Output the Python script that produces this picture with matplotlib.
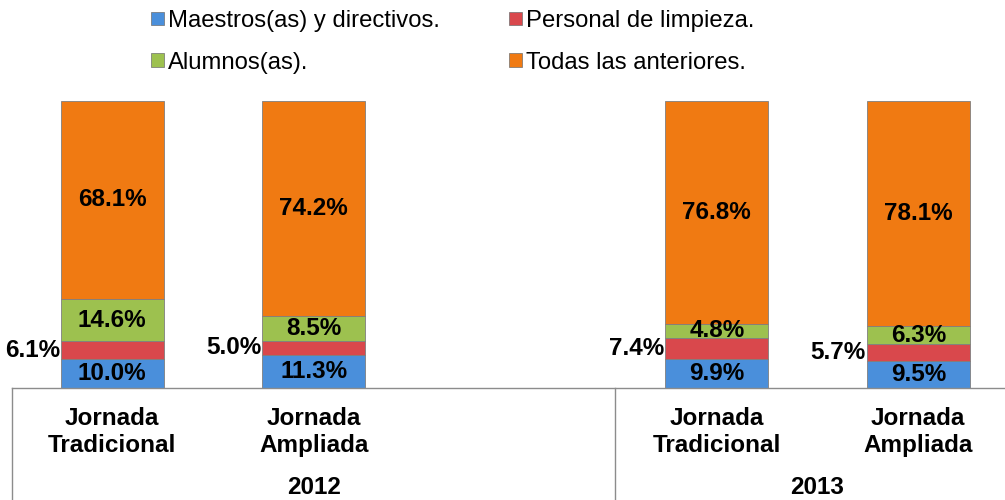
import matplotlib
matplotlib.use("Agg")
import matplotlib.pyplot as plt
import matplotlib.transforms as mtransforms
from matplotlib.patches import Patch
from matplotlib.lines import Line2D

plt.rcParams['font.family'] = ['Liberation Sans', 'DejaVu Sans']

categories = ["Jornada\nTradicional", "Jornada\nAmpliada", "", "Jornada\nTradicional", "Jornada\nAmpliada"]
years = ["2012", "2013"]
series_names = ["Maestros(as) y directivos.", "Personal de limpieza.", "Alumnos(as).", "Todas las anteriores."]
maestros = [10.0, 11.3, None, 9.9, 9.5]
limpieza = [6.1, 5.0, None, 7.4, 5.7]
alumnos = [14.6, 8.5, None, 4.8, 6.3]
todas = [68.1, 74.2, None, 76.8, 78.1]
colors = ["#4a8fdb", "#d9484c", "#9dc14f", "#f07a12"]

fig = plt.figure(figsize=(10.05, 5.0), dpi=100)
W, H = 1005, 500
ax = fig.add_axes([11.5 / W, 1 - 388 / H, 1007.5 / W, (388 - 101) / H])
ax.set_xlim(-0.5, 4.5)
ax.set_ylim(0, 100)
ax.axis('off')

FS = 17.5
series = [maestros, limpieza, alumnos, todas]
for i in range(len(categories)):
    vals = [s[i] for s in series]
    if vals[0] is None:
        continue
    total = sum(vals)
    bottom = 0
    for k, v in enumerate(vals):
        h = v / total * 100
        ax.bar(i, h, bottom=bottom, width=0.51, color=colors[k],
               edgecolor="#7f7f7f", linewidth=0.6)
        label = f"{v:.1f}%"
        if k == 1:
            ax.text(i - 0.255 - 0.005, bottom + h / 2, label, ha='right', va='center',
                    fontsize=FS, fontweight='bold')
        else:
            ax.text(i, bottom + h / 2, label, ha='center', va='center',
                    fontsize=FS, fontweight='bold')
        bottom += h

# category axis table lines
line_kw = dict(color="#8c8c8c", linewidth=1.0, clip_on=False)
fig.add_artist(Line2D([12 / W, 1.0], [1 - 388 / H] * 2, transform=fig.transFigure, **line_kw))
for xp in [12, 615]:
    fig.add_artist(Line2D([xp / W] * 2, [0, 1 - 388 / H], transform=fig.transFigure, **line_kw))

tr = mtransforms.blended_transform_factory(ax.transData, fig.transFigure)
for i, c in enumerate(categories):
    if c:
        ax.text(i, 1 - 432 / H, c, transform=tr, ha='center', va='center',
                fontsize=FS, fontweight='bold', linespacing=1.2)

ax.text(1.0, 1 - 488 / H, years[0], transform=tr, ha='center', va='center',
        fontsize=FS, fontweight='bold')
ax.text(3.5, 1 - 488 / H, years[1], transform=tr, ha='center', va='center',
        fontsize=FS, fontweight='bold')

# legend
handles = [Patch(facecolor=colors[k], edgecolor="#6f6f6f", linewidth=0.5) for k in range(4)]
order = [0, 2, 1, 3]
leg = fig.legend([handles[k] for k in order], [series_names[k] for k in order],
                 ncol=2, loc='upper left', bbox_to_anchor=(151 / W, 1 - 10 / H),
                 frameon=False, fontsize=17.2, handlelength=0.55, handleheight=0.5,
                 handletextpad=0.15, columnspacing=2.9, labelspacing=0.82,
                 borderpad=0, borderaxespad=0)

fig.savefig("out.png", dpi=100)
